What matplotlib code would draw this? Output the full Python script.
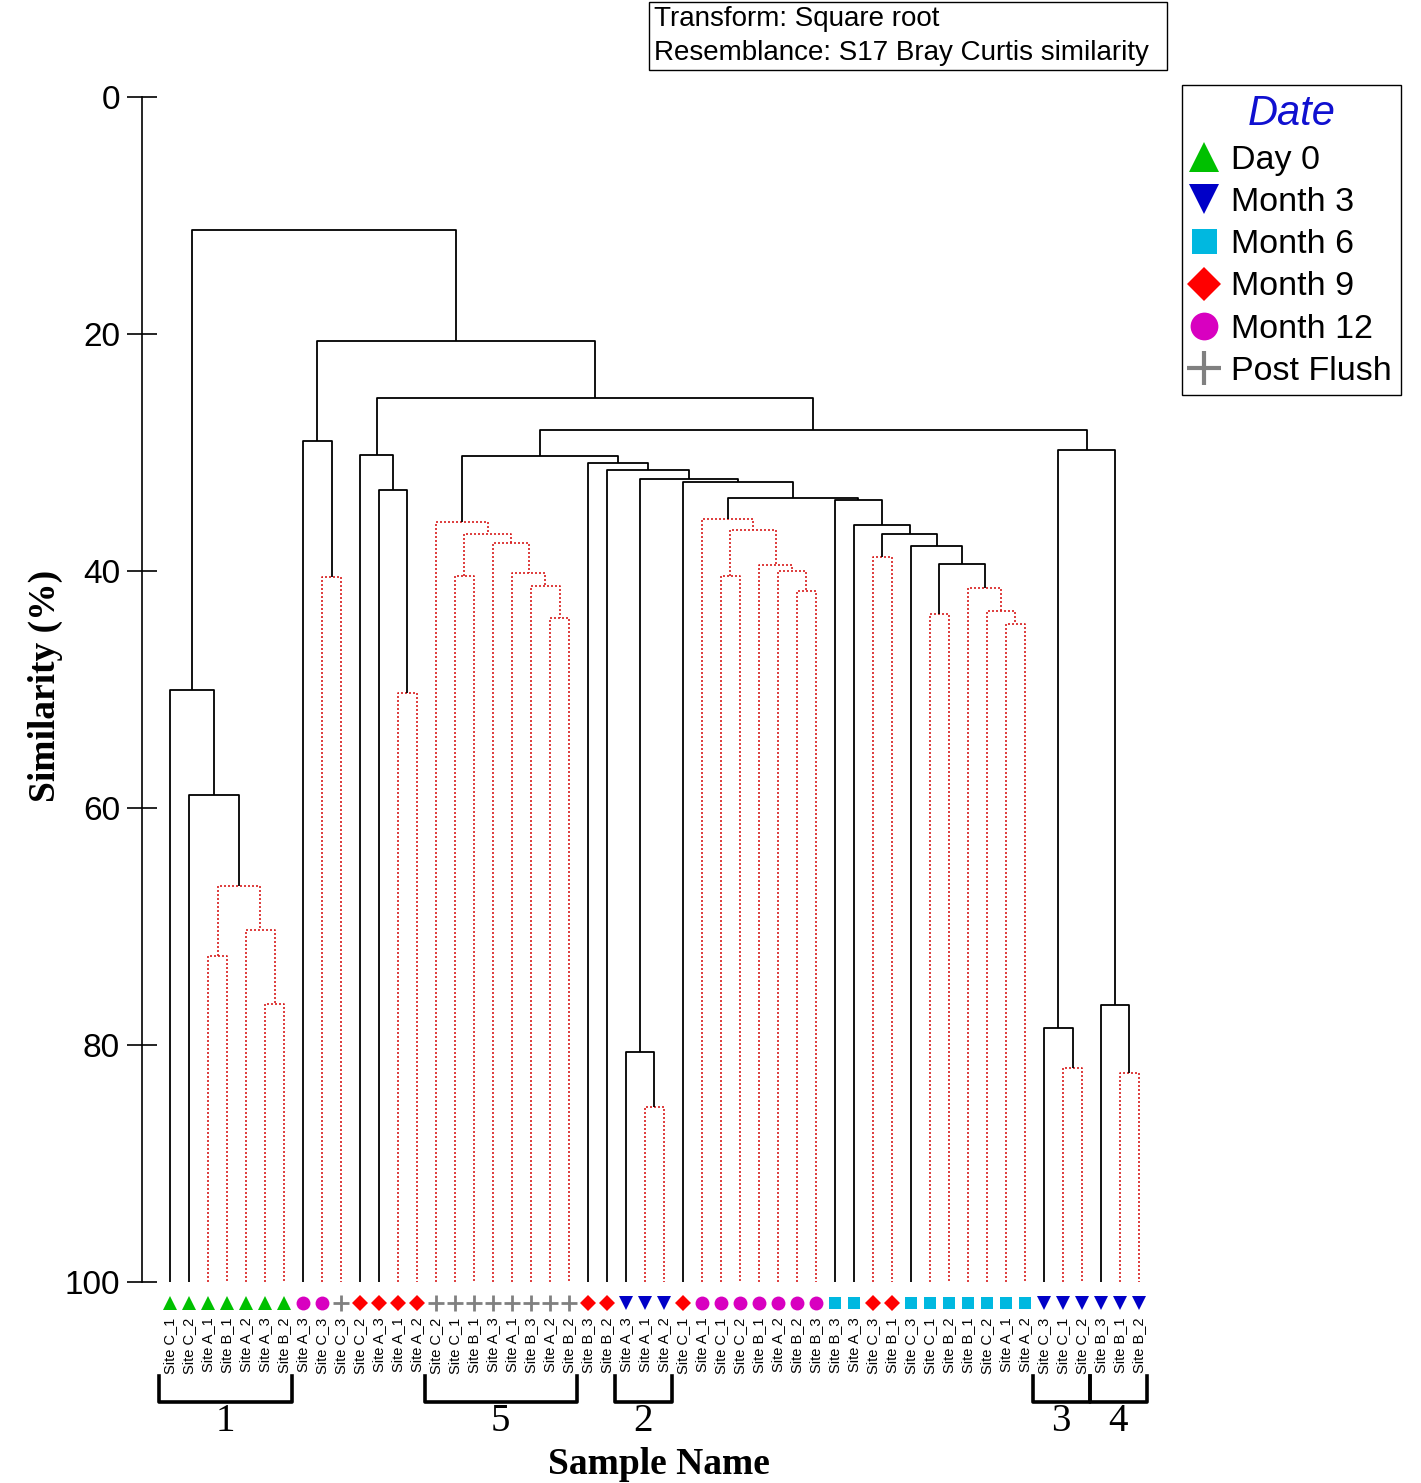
import matplotlib
matplotlib.use('Agg')
import matplotlib.pyplot as plt
from matplotlib.lines import Line2D
from matplotlib.patches import Rectangle

plt.rcParams['font.family'] = ['Liberation Sans', 'DejaVu Sans']

W, H = 1421, 1483

# leaves, left to right
leaf_sites = ['C_1', 'C_2', 'A_1', 'B_1', 'A_2', 'A_3', 'B_2',
              'A_3', 'C_3', 'C_3',
              'C_2', 'A_3', 'A_1', 'A_2',
              'C_2', 'C_1', 'B_1', 'A_3', 'A_1', 'B_3', 'A_2', 'B_2',
              'B_3', 'B_2',
              'A_3', 'A_1', 'A_2',
              'C_1',
              'A_1', 'C_1', 'C_2', 'B_1', 'A_2', 'B_2', 'B_3',
              'B_3', 'A_3',
              'C_3', 'B_1',
              'C_3', 'C_1', 'B_2', 'B_1', 'C_2', 'A_1', 'A_2',
              'C_3', 'C_1', 'C_2',
              'B_3', 'B_1', 'B_2']
leaf_dates = (['Day 0'] * 7 + ['Month 12'] * 2 + ['Post Flush'] + ['Month 9'] * 4
              + ['Post Flush'] * 8 + ['Month 9'] * 2 + ['Month 3'] * 3 + ['Month 9']
              + ['Month 12'] * 7 + ['Month 6'] * 2 + ['Month 9'] * 2
              + ['Month 6'] * 7 + ['Month 3'] * 6)

# merges: (node a, node b, similarity %, SIMPROF significant); new nodes numbered from 52
merges = [
    (2, 3, 72.5, False), (5, 6, 76.5, False), (4, 53, 70.3, False),
    (52, 54, 66.6, False), (1, 55, 58.9, True), (0, 56, 50.0, True),
    (8, 9, 40.5, False), (7, 58, 29.0, True),
    (12, 13, 50.3, False), (11, 60, 33.2, True), (10, 61, 30.2, True),
    (20, 21, 44.0, False), (19, 63, 41.3, False), (18, 64, 40.2, False),
    (17, 65, 37.6, False), (15, 16, 40.4, False), (67, 66, 36.9, False),
    (14, 68, 35.9, False),
    (25, 26, 85.2, False), (24, 70, 80.6, True),
    (33, 34, 41.7, False), (32, 72, 40.0, False), (31, 73, 39.5, False),
    (29, 30, 40.4, False), (75, 74, 36.5, False), (28, 76, 35.6, False),
    (44, 45, 44.5, False), (43, 78, 43.4, False), (42, 79, 41.4, False),
    (40, 41, 43.6, False), (81, 80, 39.4, True), (39, 82, 37.9, True),
    (37, 38, 38.85, False), (84, 83, 36.9, True), (36, 85, 36.1, True),
    (35, 86, 34.0, True), (77, 87, 33.8, True), (27, 88, 32.5, True),
    (71, 89, 32.2, True), (23, 90, 31.5, True), (22, 91, 30.9, True),
    (69, 92, 30.3, True),
    (47, 48, 81.9, False), (46, 94, 78.6, True),
    (50, 51, 82.4, False), (49, 96, 76.6, True),
    (95, 97, 29.8, True), (93, 98, 28.1, True), (62, 99, 25.4, True),
    (59, 100, 20.6, True), (57, 101, 11.2, True),
]

date_order = ['Day 0', 'Month 3', 'Month 6', 'Month 9', 'Month 12', 'Post Flush']
date_style = {
    'Day 0': ('^', '#00c000', 10.5),
    'Month 3': ('v', '#0000c8', 10.5),
    'Month 6': ('s', '#00b8e0', 9),
    'Month 9': ('D', '#ff0000', 8.5),
    'Month 12': ('o', '#d800c0', 10),
    'Post Flush': ('+', '#808080', 12),
}

# numbered groups under the leaves: (first leaf, last leaf, label)
group_first = [0, 14, 24, 46, 49]
group_last = [6, 21, 26, 48, 51]
group_names = ['1', '5', '2', '3', '4']

fig = plt.figure(figsize=(W / 100, H / 100), dpi=100)
ax = fig.add_axes([142 / W, (H - 1282) / H, (1160 - 142) / W, (1282 - 97) / H])
ax.set_xlim(-28 / 19, 990 / 19)
ax.set_ylim(100, 0)

black = dict(color='black', lw=1.3, ls='-')
red = dict(color='#d81c1c', lw=1.2, ls=(0, (1.2, 1.2)))

xpos = [float(i) for i in range(len(leaf_sites))]
ypos = [100.0] * len(leaf_sites)
for a, b, s, sig in merges:
    st = black if sig else red
    ax.plot([xpos[a], xpos[a], xpos[b], xpos[b]], [ypos[a], s, s, ypos[b]],
            solid_capstyle='butt', **st)
    xpos.append((xpos[a] + xpos[b]) / 2)
    ypos.append(s)

for d in date_order:
    idx = [i for i, dd in enumerate(leaf_dates) if dd == d]
    m, c, ms = date_style[d]
    ax.plot(idx, [101.8] * len(idx), ls='none', marker=m, color=c, ms=ms,
            mew=2 if m == '+' else 0, clip_on=False)

for i, s in enumerate(leaf_sites):
    ax.text(i, 103.0, 'Site ' + s, rotation=90, ha='center', va='top',
            fontsize=10.5)

for a, b, name in zip(group_first, group_last, group_names):
    x0, x1 = a - 0.6, b + 0.4
    ax.plot([x0, x0, x1, x1], [107.9, 110.1, 110.1, 107.9], color='black',
            lw=2.6, clip_on=False, solid_joinstyle='round')
    ax.text((x0 + x1) / 2, 111.8, name, ha='center', va='center',
            fontsize=28, family='Liberation Serif')

for sp in ['top', 'right', 'bottom']:
    ax.spines[sp].set_visible(False)
ax.spines['left'].set_linewidth(1.2)
ax.set_xticks([])
ax.set_yticks([0, 20, 40, 60, 80, 100])
ax.tick_params(axis='y', direction='inout', length=20.9, width=1.2,
               labelsize=24, pad=5.4)

fig.text(45 / W, 1 - 686 / H, 'Similarity (%)', rotation=90, ha='center',
         va='center', fontsize=27, fontweight='bold', family='Liberation Serif')
fig.text(659 / W, 1 - 1465 / H, 'Sample Name', ha='center', va='center',
         fontsize=27, fontweight='bold', family='Liberation Serif')

# transform / resemblance note
fig.patches.append(Rectangle((649 / W, 1 - 70 / H), 518 / W, 68 / H,
                             transform=fig.transFigure, fill=False,
                             ec='black', lw=1))
fig.text(654 / W, 1 - 36 / H, 'Transform: Square root\nResemblance: S17 Bray Curtis similarity',
         ha='left', va='center', fontsize=20, linespacing=1.45)

handles = []
for d in date_order:
    m, c, ms = date_style[d]
    handles.append(Line2D([], [], ls='none', marker=m, color=c, ms=ms * 2.0,
                          mew=3 if m == '+' else 0))
leg = fig.legend(handles, date_order, loc='upper left',
                 bbox_to_anchor=(1182 / W, 1 - 85 / H), borderaxespad=0,
                 fontsize=24.5, title='Date', handlelength=0.8,
                 handletextpad=0.4, labelspacing=0.33, borderpad=0.25,
                 fancybox=False, framealpha=1, edgecolor='black',
                 title_fontproperties={'style': 'italic', 'size': 30})
leg.get_title().set_color('#1010d0')
leg.get_frame().set_linewidth(1.0)

fig.savefig('out.png', dpi=100)
